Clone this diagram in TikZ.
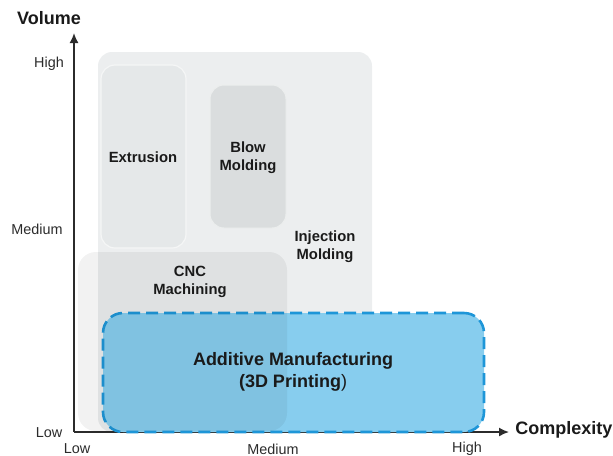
\documentclass[tikz,border=0pt]{standalone}
\usepackage{fontspec}
\setmainfont{Liberation Sans}
\usepackage{tikz}
\usetikzlibrary{arrows.meta, positioning, fit}
\definecolor{pmcolor0}{HTML}{ECEEEF}
\definecolor{pmcolor1}{HTML}{E5E8E9}
\definecolor{pmcolor2}{HTML}{DADDDE}
\definecolor{pmcolor3}{HTML}{87CDEE}
\definecolor{pmcolor4}{HTML}{1E96D8}
\definecolor{pmcolor5}{HTML}{2B2B2B}
\definecolor{pmcolor6}{HTML}{1A1A1A}
\tikzset{
  axis_line/.style={line width=0.8pt, color=pmcolor5, -{Latex[length=5pt, width=4.5pt]}},
  axis_title/.style={font=\fontsize{9}{10}\selectfont\bfseries, text=pmcolor6, inner sep=0pt},
  tick_label/.style={font=\fontsize{7.2}{8}\selectfont, text=pmcolor5, inner sep=0pt},
  region_label/.style={font=\fontsize{7.4}{9}\selectfont\bfseries, text=pmcolor6, align=center, inner sep=0pt},
  region_box/.style={rounded corners=7pt, inner sep=0pt},
  box_injection/.style={region_box, fill=pmcolor0},
  box_extrusion/.style={region_box, fill=pmcolor1, draw=white!60!pmcolor1, line width=0.6pt},
  box_blow/.style={region_box, fill=pmcolor2, draw=white!50!pmcolor2, line width=0.5pt},
  box_cnc/.style={region_box, rounded corners=9pt, fill=black, fill opacity=0.05},
  box_additive/.style={region_box, rounded corners=10pt, fill=pmcolor3, draw=pmcolor4, line width=1.3pt, dash pattern=on 6pt off 3pt},
  additive_label/.style={font=\fontsize{9}{11}\selectfont\bfseries, text=pmcolor6, align=center, inner sep=0pt}
}

\begin{document}
\begin{tikzpicture}[x=0.5pt, y=-0.5pt]
\useasboundingbox (0,0) rectangle (613,455);
% regions
\node[box_injection, fit={(98,52) (372,432)}] (inj_box) {};
\node[box_extrusion, fit={(101,65) (186,248)}] (ext_box) {};
\node[box_blow, fit={(210,85) (286,228)}] (blow_box) {};
% axes
\coordinate (origin) at (74,432);
\coordinate (y_tip) at (74,33);
\coordinate (x_tip) at (509,432);
\draw[axis_line] (origin) -- (y_tip);
\draw[axis_line] (origin) -- (x_tip);
\node[box_additive, fit={(103,313) (484,432)}] (am_box) {};
\node[box_cnc, fit={(78,252) (287,431)}] (cnc_box) {};
% labels
\node[axis_title] (vol_title) at (49,18) {Volume};
\node[axis_title, anchor=west] (cx_title) at (515,430) {Complexity};
\node[tick_label] (y_high) at (49,64) {High};
\node[tick_label] (y_med) at (37,229) {Medium};
\node[tick_label] (y_low) at (49,433) {Low};
\node[tick_label] (x_low) at (77,449) {Low};
\node[tick_label] (x_med) at (273,449) {Medium};
\node[tick_label] (x_high) at (467,449) {High};
\node[region_label] (ext_label) at (143,157) {Extrusion};
\node[region_label] (blow_label) at (248,158) {Blow\\Molding};
\node[region_label] (inj_label) at (325,247) {Injection\\Molding};
\node[region_label] (cnc_label) at (190,282) {CNC\\Machining};
\node[additive_label] (am_label) at (293,372) {Additive Manufacturing\\(3D Printing\textmd{)}};
\end{tikzpicture}
\end{document}
